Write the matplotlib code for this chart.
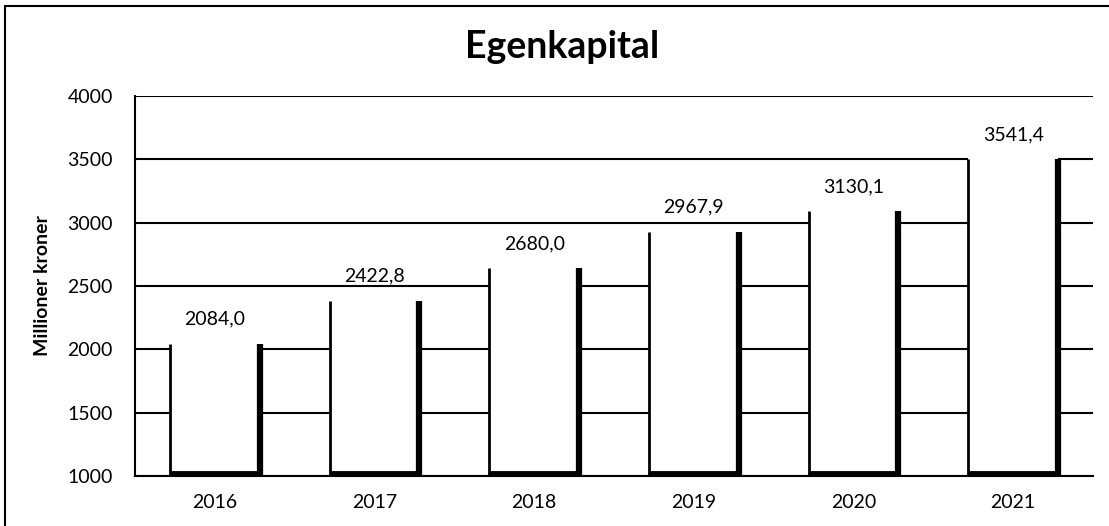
import matplotlib
matplotlib.use("Agg")
import matplotlib.pyplot as plt
import matplotlib.patches as patches
import numpy as np

years = ["2016", "2017", "2018", "2019", "2020", "2021"]
values = [2084.0, 2422.8, 2680.0, 2967.9, 3130.1, 3541.4]
value_labels = ["2084,0", "2422,8", "2680,0", "2967,9", "3130,1", "3541,4"]
yticks = [1000, 1500, 2000, 2500, 3000, 3500, 4000]

plt.rcParams["font.family"] = ["Lato", "DejaVu Sans"]

fig = plt.figure(figsize=(11.09, 5.26), dpi=100)
ax = fig.add_axes([135 / 1109, 1 - 476 / 526, (1093 - 135) / 1109, 380 / 526])

# outer chart border (right and bottom fall outside the picture)
fig.patches.append(patches.Rectangle((5 / 1109, -0.05), 1.1, 1.05 - 6 / 526,
                                     transform=fig.transFigure, fill=False,
                                     edgecolor="black", linewidth=1.5))

x = np.arange(len(years))
w = 0.56
vals = np.array(values)
ax.bar(x, vals - 1000, bottom=1000, width=w, color="white", edgecolor="none", zorder=2)
# open-topped outlines: thin left side, heavy right side and base
ax.vlines(x - w / 2, 1000, vals - 40, color="black", linewidth=2, zorder=3)
ax.vlines(x + w / 2, 1000, vals - 40, color="black", linewidth=4.5, zorder=3)
ax.hlines(np.full(len(x), 1025.0), x - w / 2, x + w / 2, color="black", linewidth=3.5, zorder=3)

for xi, v, lab in zip(x, vals, value_labels):
    ax.annotate(lab, (xi, v), xytext=(0, 8), textcoords="offset points",
                ha="center", va="bottom", fontsize=14)

ax.set_ylim(1000, 4000)
ax.set_xlim(-0.5, len(years) - 0.5)
ax.set_yticks(yticks)
ax.set_xticks(x)
ax.set_xticklabels(years)
ax.tick_params(length=0, labelsize=14, pad=13)
ax.tick_params(axis="y", pad=16)
ax.yaxis.grid(True, color="black", linewidth=1.5)
ax.set_axisbelow(True)
for s in ["top", "right"]:
    ax.spines[s].set_visible(False)
for s in ["left", "bottom"]:
    ax.spines[s].set_linewidth(1.5)
ax.set_ylabel("Millioner kroner", fontsize=14, fontweight="bold", labelpad=12)

fig.text(562 / 1109, 1 - 47 / 526, "Egenkapital", ha="center", va="center",
         fontsize=27, fontweight="bold")

fig.savefig("out.png", dpi=100)
